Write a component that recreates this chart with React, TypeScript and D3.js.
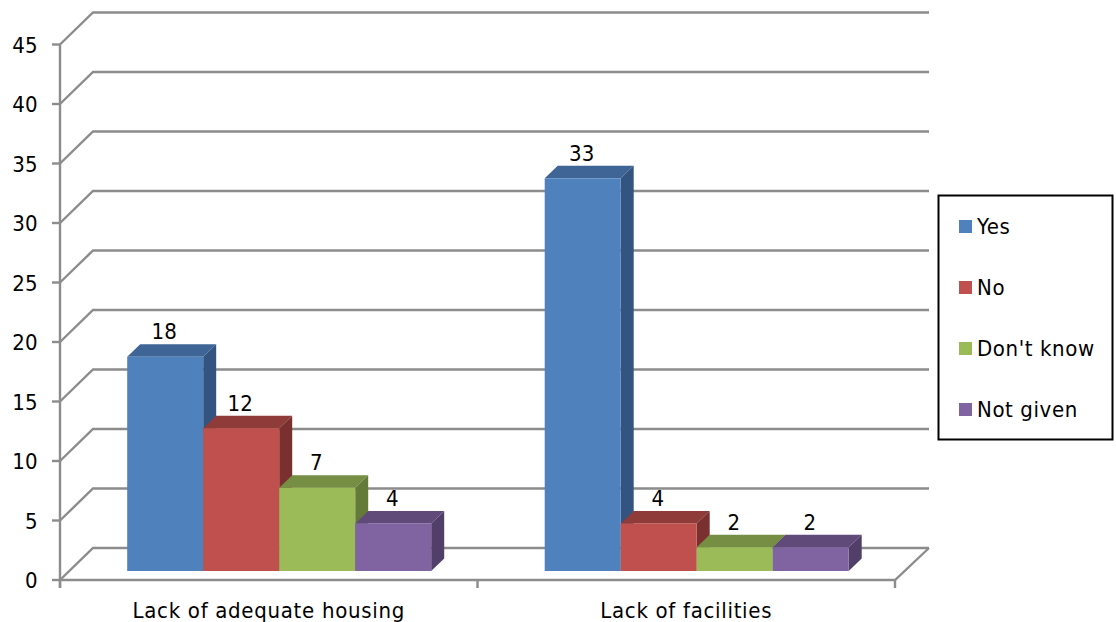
import React from 'react';
import * as d3 from 'd3';

const categories = ['Lack of adequate housing', 'Lack of facilities'];
const seriesNames = ['Yes', 'No', "Don't know", 'Not given'];
const housingValues = [18, 12, 7, 4];
const facilitiesValues = [33, 4, 2, 2];
const yTicks = [0, 5, 10, 15, 20, 25, 30, 35, 40, 45];

const frontColors = ['#4F81BD', '#C0504D', '#9BBB59', '#8064A2'];
const topColors = ['#3E6596', '#8E3B39', '#758E43', '#5F4A79'];
const sideColors = ['#335480', '#7A302E', '#647A38', '#523F69'];

const font = '"DejaVu Sans Condensed", "DejaVu Sans", sans-serif';
const grey = '#8C8C8C';

// 3d offsets, same as the spreadsheet chart: wall is pushed back, bars sit in the middle of the floor
const wallDx = 33;
const wallDy = -32;
const barInsetY = -9;
const barDepthX = 13;
const barDepthY = -12.5;

const y = d3.scaleLinear().domain([0, 45]).range([580, 44.5]);
const x0 = d3.scaleBand<string>().domain(categories).range([60, 895]);
const x1 = d3.scaleBand<string>().domain(seriesNames).range([0, 304]);
const barStart = 67.2;

const line = d3.line<[number, number]>();

const App: React.FC = () => {
  const rows = [housingValues, facilitiesValues];
  const xRight = x0.range()[1];

  return (
    <svg
      width={1116}
      height={622}
      viewBox="0 0 1116 622"
      style={{ position: 'absolute', left: 0, top: 0, background: '#fff' }}
      fontFamily={font}
    >
      {/* walls and gridlines */}
      {yTicks.map(t => (
        <g key={t}>
          <path
            d={line([[60, y(t)], [60 + wallDx, y(t) + wallDy], [xRight + wallDx + 1, y(t) + wallDy]]) as string}
            fill="none"
            stroke={grey}
            strokeWidth={2.4}
          />
          <line x1={52} x2={60} y1={y(t)} y2={y(t)} stroke={grey} strokeWidth={2.4} />
          <text x={37.5} y={y(t) + 8} textAnchor="end" fontSize={22} fill="#000">{t}</text>
        </g>
      ))}
      <line x1={60} x2={60} y1={y(45)} y2={y(0) + 8} stroke={grey} strokeWidth={2.4} />

      {/* floor */}
      <path
        d={line([[60, y(0)], [xRight, y(0)], [xRight + wallDx + 1, y(0) + wallDy]]) as string}
        fill="none"
        stroke={grey}
        strokeWidth={2.4}
      />
      {[...categories.map(c => x0(c) as number), xRight].map(v => (
        <line key={v} x1={v} x2={v} y1={y(0)} y2={y(0) + 8} stroke={grey} strokeWidth={2.4} />
      ))}

      {/* bars */}
      {categories.map((c, ci) =>
        seriesNames.map((s, si) => {
          const v = rows[ci][si];
          const left = (x0(c) as number) + barStart + (x1(s) as number);
          const right = left + x1.bandwidth();
          const top = y(v) + barInsetY;
          const base = y(0) + barInsetY;
          return (
            <g key={c + s}>
              <path
                d={line([[left, top], [left + barDepthX, top + barDepthY], [right + barDepthX, top + barDepthY], [right, top]]) + 'Z'}
                fill={topColors[si]}
              />
              <path
                d={line([[right, top], [right + barDepthX, top + barDepthY], [right + barDepthX, base + barDepthY], [right, base]]) + 'Z'}
                fill={sideColors[si]}
              />
              <rect x={left} y={top} width={x1.bandwidth()} height={base - top} fill={frontColors[si]} />
              <text x={(left + right) / 2 - 1} y={top + barDepthY - 5} textAnchor="middle" fontSize={22} fill="#000">{v}</text>
            </g>
          );
        })
      )}

      {/* category labels */}
      {categories.map(c => (
        <text
          key={c}
          x={(x0(c) as number) + x0.bandwidth() / 2}
          y={618}
          textAnchor="middle"
          fontSize={22}
          letterSpacing={0.7}
          fill="#000"
        >
          {c}
        </text>
      ))}

      {/* legend */}
      <rect x={938.5} y={195.5} width={174} height={244} fill="#fff" stroke="#000" strokeWidth={2} />
      {seriesNames.map((s, i) => (
        <g key={s}>
          <rect x={959} y={220 + i * 61} width={13} height={13} fill={frontColors[i]} />
          <text x={977} y={234 + i * 61} fontSize={22} letterSpacing={0.6} fill="#000">{s}</text>
        </g>
      ))}
    </svg>
  );
};

export default App;
